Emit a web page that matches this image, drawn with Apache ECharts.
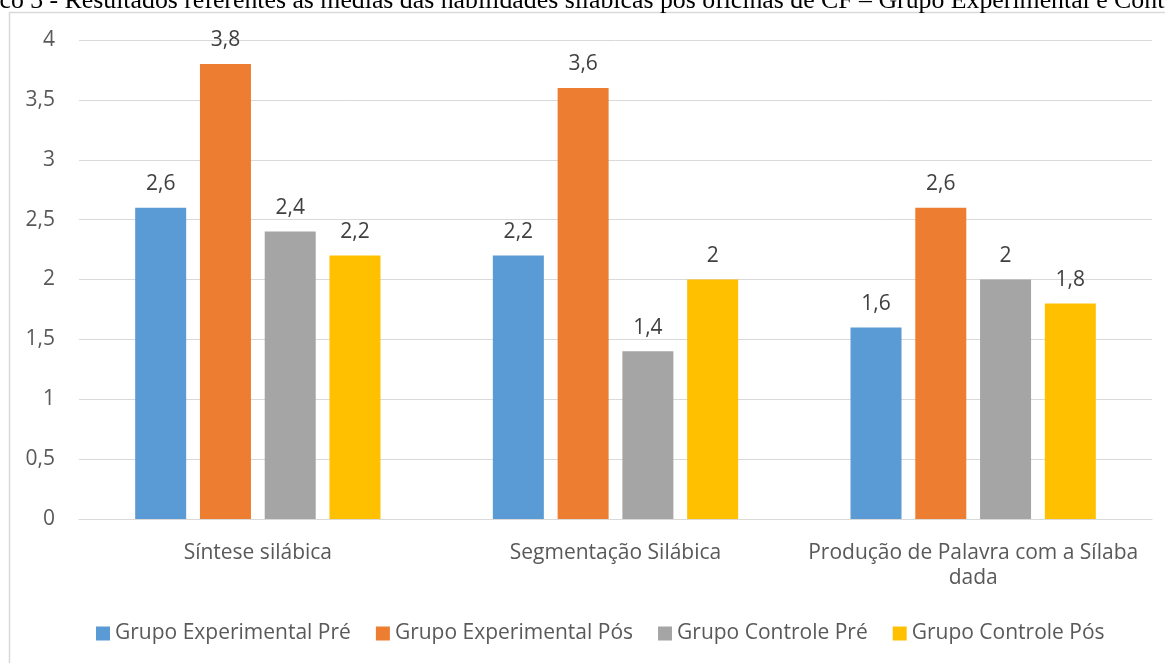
<!DOCTYPE html>
<html>
<head>
<meta charset="utf-8">
<script src="https://cdn.jsdelivr.net/npm/echarts@6/dist/echarts.min.js"></script>
<style>
html,body{margin:0;padding:0;background:#fff;overflow:hidden;}
#chart{width:1165px;height:663px;}
</style>
</head>
<body>
<div id="chart"></div>
<script>
const titleText = 'Gráfico 3 - Resultados referentes às médias das habilidades silábicas pós oficinas de CF – Grupo Experimental e Controle';
const categories = ['Síntese silábica', 'Segmentação Silábica', 'Produção de Palavra com a Sílaba dada'];
const seriesNames = ['Grupo Experimental Pré', 'Grupo Experimental Pós', 'Grupo Controle Pré', 'Grupo Controle Pós'];
const expPre = [2.6, 2.2, 1.6];
const expPos = [3.8, 3.6, 2.6];
const ctrlPre = [2.4, 1.4, 2.0];
const ctrlPos = [2.2, 2.0, 1.8];
const yTicks = { min: 0, max: 4, interval: 0.5 };
const colors = ['#5B9BD5', '#ED7D31', '#A5A5A5', '#FFC000'];

const FONT = '"Open Sans", sans-serif';
const FS = 21;
const fmt = v => String(v).replace('.', ',');
const values = [expPre, expPos, ctrlPre, ctrlPos];
// wrap long category names at the last space (as the original chart does)
const wrap = s => {
  if (s.length <= 30) return s;
  const i = s.lastIndexOf(' ');
  return s.slice(0, i) + '\n' + s.slice(i + 1);
};

const chart = echarts.init(document.getElementById('chart'), null, { renderer: 'canvas' });
chart.setOption({
  animation: false,
  backgroundColor: '#fff',
  graphic: [
    { type: 'rect', shape: { x: 9.5, y: 12.5, width: 1300, height: 800 }, style: { fill: 'none', stroke: '#D9D9D9', lineWidth: 1.5 }, z: 0 },
    { type: 'text', x: -55, y: 14, style: { text: titleText, font: '25.8px "Liberation Serif", "Times New Roman", serif', fill: '#000', textVerticalAlign: 'bottom', verticalAlign: 'bottom' }, z: 10 }
  ],
  legend: {
    data: seriesNames,
    left: 96,
    top: 623,
    padding: 0,
    itemWidth: 14,
    itemHeight: 14,
    itemGap: 25,
    icon: 'rect',
    textStyle: { fontFamily: FONT, fontSize: FS, color: '#595959' }
  },
  grid: { left: 79, right: 13, top: 40, bottom: 144, containLabel: false },
  xAxis: {
    type: 'category',
    data: categories,
    axisLine: { show: true, lineStyle: { color: '#D9D9D9', width: 1 } },
    axisTick: { show: false },
    axisLabel: { fontFamily: FONT, fontSize: FS, color: '#595959', margin: 22, lineHeight: 25, interval: 0, formatter: wrap }
  },
  yAxis: {
    type: 'value',
    min: yTicks.min, max: yTicks.max, interval: yTicks.interval,
    axisLine: { show: false },
    axisTick: { show: false },
    splitLine: { lineStyle: { color: '#D9D9D9', width: 1 } },
    axisLabel: { fontFamily: FONT, fontSize: FS, color: '#595959', margin: 24, formatter: v => fmt(v) }
  },
  series: seriesNames.map((name, i) => ({
    name,
    type: 'bar',
    data: values[i],
    barWidth: 51,
    barGap: '27%',
    itemStyle: { color: colors[i] },
    label: { show: true, position: 'top', distance: 13, fontFamily: FONT, fontSize: FS, color: '#404040', formatter: p => fmt(p.value) }
  }))
});
</script>
</body>
</html>
